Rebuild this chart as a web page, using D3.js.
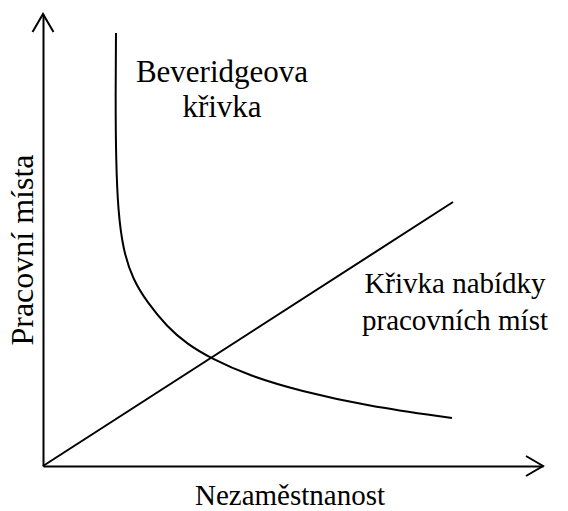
<!DOCTYPE html>
<html>
<head>
<meta charset="utf-8">
<script src="https://cdn.jsdelivr.net/npm/d3@7"></script>
<style>
  body { margin: 0; background: #fff; }
</style>
</head>
<body>
<div id="chart"></div>
<script>
// data (axis units 0..100)
var supplyX = [0, 82];
var supplyY = [0, 58.4];

var beveridgeX = [14.6, 14.5, 14.6, 15.0, 16.0, 18.0, 20.8, 24.8, 28.8, 33.4, 41.4, 51.4, 64.8, 81.8];
var beveridgeY = [95.8, 81.0, 67.7, 56.6, 47.8, 41.2, 36.3, 30.8, 27.0, 23.9, 19.9, 16.6, 13.3, 10.6];

var labels = {
  x: "Nezaměstnanost",
  y: "Pracovní místa",
  beveridge: ["Beveridgeova", "křivka"],
  supply: ["Křivka nabídky", "pracovních míst"]
};

var width = 568, height = 511;

var svg = d3.select("#chart")
  .append("svg")
    .attr("width", width)
    .attr("height", height);

// scales
var x = d3.scaleLinear().domain([0, 100]).range([43, 543]);
var y = d3.scaleLinear().domain([0, 100]).range([466, 14]);

// axes, no ticks, just the lines
svg.append("g")
  .attr("transform", "translate(0," + y(0) + ")")
  .call(d3.axisBottom(x).ticks(0).tickSizeOuter(0))
  .select(".domain").attr("stroke-width", 2);

svg.append("g")
  .attr("transform", "translate(" + x(0) + ",0)")
  .call(d3.axisLeft(y).ticks(0).tickSizeOuter(0))
  .select(".domain").attr("stroke-width", 2);

// arrow heads
var tx = x(100), ty = y(0);
svg.append("path")
  .attr("d", "M" + (tx - 17) + "," + (ty - 10) + "L" + tx + "," + ty + "L" + (tx - 17) + "," + (ty + 10))
  .attr("fill", "none").attr("stroke", "#000").attr("stroke-width", 2);

var ux = x(0), uy = y(100);
svg.append("path")
  .attr("d", "M" + (ux - 10.5) + "," + (uy + 18) + "L" + ux + "," + uy + "L" + (ux + 10.5) + "," + (uy + 18))
  .attr("fill", "none").attr("stroke", "#000").attr("stroke-width", 2);

// curves
var supply = supplyX.map(function(d, i) { return [d, supplyY[i]]; });
var beveridge = beveridgeX.map(function(d, i) { return [d, beveridgeY[i]]; });

var line = d3.line()
  .x(function(d) { return x(d[0]); })
  .y(function(d) { return y(d[1]); });

svg.append("path")
  .datum(supply)
  .attr("d", line)
  .attr("fill", "none").attr("stroke", "#000").attr("stroke-width", 2);

svg.append("path")
  .datum(beveridge)
  .attr("d", line.curve(d3.curveBasis))
  .attr("fill", "none").attr("stroke", "#000").attr("stroke-width", 2);

// texts
var serif = "'Times New Roman', Times, 'Liberation Serif', 'DejaVu Serif', serif";

svg.append("text")
  .attr("x", 290).attr("y", 495).attr("dy", "0.35em")
  .attr("text-anchor", "middle")
  .attr("font-family", serif).attr("font-size", 29)
  .text(labels.x);

svg.append("text")
  .attr("transform", "translate(22,250) rotate(-90)")
  .attr("dy", "0.35em")
  .attr("text-anchor", "middle")
  .attr("font-family", serif).attr("font-size", 32)
  .text(labels.y);

labels.beveridge.forEach(function(t, i) {
  svg.append("text")
    .attr("x", 222).attr("y", 71 + i * 35).attr("dy", "0.35em")
    .attr("text-anchor", "middle")
    .attr("font-family", serif).attr("font-size", 31)
    .text(t);
});

labels.supply.forEach(function(t, i) {
  svg.append("text")
    .attr("x", 455).attr("y", 283 + i * 37).attr("dy", "0.35em")
    .attr("text-anchor", "middle")
    .attr("font-family", serif).attr("font-size", 29)
    .text(t);
});
</script>
</body>
</html>
